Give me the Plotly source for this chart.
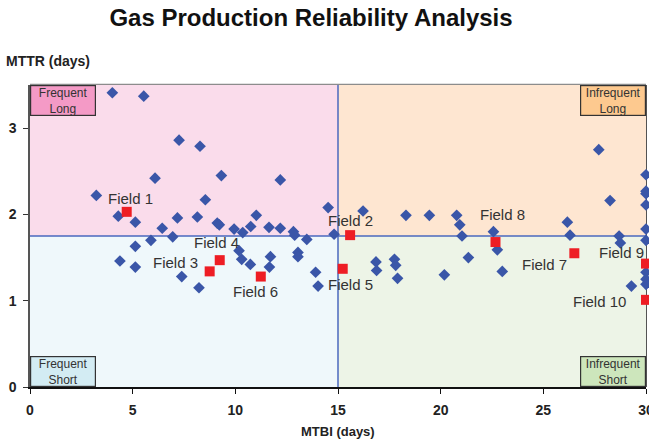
import plotly.graph_objects as go

# ---------------- data ----------------
blue_x = [4.01, 5.54, 7.26, 8.28, 6.09, 9.32, 12.19, 3.23, 8.54, 4.30, 5.13, 7.18, 8.15, 9.12,
          9.22, 9.94, 10.36, 10.75, 11.02, 6.44, 14.52, 11.64, 12.19, 12.83, 12.89, 14.81,
          6.95, 5.89, 5.13, 4.38, 5.13, 7.39, 8.23, 10.18, 10.31, 10.73, 11.71, 11.66, 13.48,
          13.05, 13.05, 13.91, 14.03,
          16.22, 18.31, 19.45, 20.78, 20.93, 22.57, 26.17, 28.25, 27.70, 30, 30, 30, 30, 30,
          21.04, 26.30, 28.69,
          16.85, 16.88, 17.75, 17.81, 17.90, 20.18, 21.35, 22.76, 23.00, 28.75, 29.29, 30, 30, 30, 30]
blue_y = [3.41, 3.37, 2.86, 2.79, 2.42, 2.45, 2.40, 2.22, 2.17, 1.98, 1.91, 1.96, 1.97, 1.90,
          1.88, 1.83, 1.79, 1.86, 1.99, 1.84, 2.08, 1.85, 1.84, 1.80, 1.76, 1.77,
          1.74, 1.70, 1.63, 1.46, 1.39, 1.28, 1.15, 1.58, 1.48, 1.42, 1.51, 1.39, 1.71,
          1.56, 1.51, 1.33, 1.17,
          2.04, 1.99, 1.99, 1.99, 1.88, 1.80, 1.91, 2.16, 2.75, 2.46, 2.27, 2.24, 2.11, 1.83,
          1.75, 1.76, 1.75,
          1.45, 1.35, 1.48, 1.41, 1.26, 1.30, 1.50, 1.59, 1.34, 1.67, 1.17, 1.70, 1.33, 1.25, 1.19]

field_names = ["Field 1", "Field 2", "Field 3", "Field 4", "Field 5",
               "Field 6", "Field 7", "Field 8", "Field 9", "Field 10"]
field_x = [4.71, 15.59, 8.75, 9.24, 15.23, 11.24, 26.51, 22.67, 30.0, 30.0]
field_y = [2.03, 1.76, 1.34, 1.47, 1.37, 1.28, 1.55, 1.68, 1.43, 1.01]

x_ticks = [0, 5, 10, 15, 20, 25, 30]
y_ticks = [0, 1, 2, 3]
mtbi_split = 15
mttr_split = 1.75

# ---------------- layout ----------------
# label offsets (data units) relative to each field marker
label_dx = [0.16, 0.0, -1.65, -0.18, 0.36, -0.25, -1.43, 0.35, -1.18, -2.27]
label_dy = [0.15, 0.17, 0.10, 0.205, -0.18, -0.17, -0.13, 0.32, 0.125, -0.02]

FONT = "Liberation Sans, Arial, sans-serif"
W, H = 649, 440
L, R, T, B = 30, 3, 84.5, 53
pw, ph = W - L - R, H - T - B


def px_x(p):
    return (p - L) / pw


def px_y(p):
    return (H - B - p) / ph


fig = go.Figure()

fig.add_trace(go.Scatter(
    x=blue_x, y=blue_y, mode="markers",
    marker=dict(symbol="diamond", size=9, color="#3A56A8"),
    cliponaxis=False, showlegend=False, hoverinfo="x+y"))

fig.add_trace(go.Scatter(
    x=field_x, y=field_y, mode="markers", text=field_names,
    marker=dict(symbol="square", size=10, color="#EE1D24"),
    cliponaxis=False, showlegend=False, hoverinfo="text+x+y"))

shapes = []
quads = [
    (0, mtbi_split, mttr_split, 3.5, "#FADCEB"),
    (mtbi_split, 30, mttr_split, 3.5, "#FEE6D1"),
    (0, mtbi_split, 0, mttr_split, "#EFF8FB"),
    (mtbi_split, 30, 0, mttr_split, "#EDF4E7"),
]
for x0, x1, y0, y1, c in quads:
    shapes.append(dict(type="rect", xref="x", yref="y", x0=x0, x1=x1, y0=y0, y1=y1,
                       fillcolor=c, line=dict(width=0), layer="below"))
shapes.append(dict(type="line", xref="x", yref="y", x0=mtbi_split, x1=mtbi_split, y0=0, y1=3.5,
                   line=dict(color="#4A68BE", width=1.5), layer="below"))
shapes.append(dict(type="line", xref="x", yref="y", x0=0, x1=30, y0=mttr_split, y1=mttr_split,
                   line=dict(color="#4A68BE", width=1.5), layer="below"))
shapes.append(dict(type="line", xref="paper", yref="paper", x0=0, x1=1, y0=1, y1=1,
                   line=dict(color="#8C8C8C", width=2.5), layer="below"))
shapes.append(dict(type="line", xref="paper", yref="paper", x0=1, x1=1, y0=0, y1=1,
                   line=dict(color="#1A1A1A", width=1.5), layer="below"))

annotations = []
for name, x, y, dx, dy in zip(field_names, field_x, field_y, label_dx, label_dy):
    annotations.append(dict(x=x + dx, y=y + dy, xref="x", yref="y", text=name,
                            showarrow=False, font=dict(family=FONT, size=15, color="#333333")))

boxes = [
    ("Frequent<br>Long", 0, 1, "left", "top", "#F49AC6"),
    ("Infrequent<br>Long", 1, 1, "right", "top", "#FDC98F"),
    ("Frequent<br>Short", 0, 0, "left", "bottom", "#D3ECF3"),
    ("Infrequent<br>Short", 1, 0, "right", "bottom", "#CDE6BC"),
]
for txt, x, y, xa, ya, c in boxes:
    annotations.append(dict(x=x, y=y, xref="paper", yref="paper", xanchor=xa, yanchor=ya,
                            text=txt, showarrow=False, width=64, height=29,
                            bgcolor=c, bordercolor="#333333", borderwidth=1.2, borderpad=0,
                            font=dict(family=FONT, size=12, color="#333333")))

annotations.append(dict(x=px_x(92), y=px_y(60), xref="paper", yref="paper",
                        text="<b>MTTR (days)</b>", showarrow=False,
                        xanchor="right", yanchor="middle",
                        font=dict(family=FONT, size=14, color="#222222")))
annotations.append(dict(x=0.5, y=px_y(432), xref="paper", yref="paper",
                        text="<b>MTBI (days)</b>", showarrow=False,
                        xanchor="center", yanchor="middle",
                        font=dict(family=FONT, size=13, color="#222222")))

fig.update_layout(
    width=W, height=H,
    margin=dict(l=L, r=R, t=T, b=B, pad=0, autoexpand=False),
    paper_bgcolor="white", plot_bgcolor="white",
    title=dict(text="<b>Gas Production Reliability Analysis</b>", x=311 / W, xanchor="center",
               y=1 - 18 / H, yanchor="middle", xref="container", yref="container",
               font=dict(family=FONT, size=24, color="#111111")),
    xaxis=dict(range=[0, 30], tickvals=x_ticks, ticktext=[f"<b>{v}</b>" for v in x_ticks],
               showgrid=False, zeroline=False, showline=True, linecolor="#111111", linewidth=1.5,
               ticks="outside", ticklen=5, tickcolor="#111111", ticklabelstandoff=4,
               ticklabeloverflow="allow",
               tickfont=dict(family=FONT, size=14, color="#222222"),
               fixedrange=True, automargin=False),
    yaxis=dict(range=[0, 3.5], tickvals=y_ticks, ticktext=[f"<b>{v}</b>" for v in y_ticks],
               showgrid=False, zeroline=False, showline=True, linecolor="#555555", linewidth=1.5,
               ticks="outside", ticklen=5, tickcolor="#333333", ticklabelstandoff=4,
               ticklabeloverflow="allow",
               tickfont=dict(family=FONT, size=14, color="#222222"),
               fixedrange=True, automargin=False),
    shapes=shapes, annotations=annotations,
)

fig.write_html("out.html", config={"displayModeBar": False},
               post_script="document.body.style.margin='0px';")
